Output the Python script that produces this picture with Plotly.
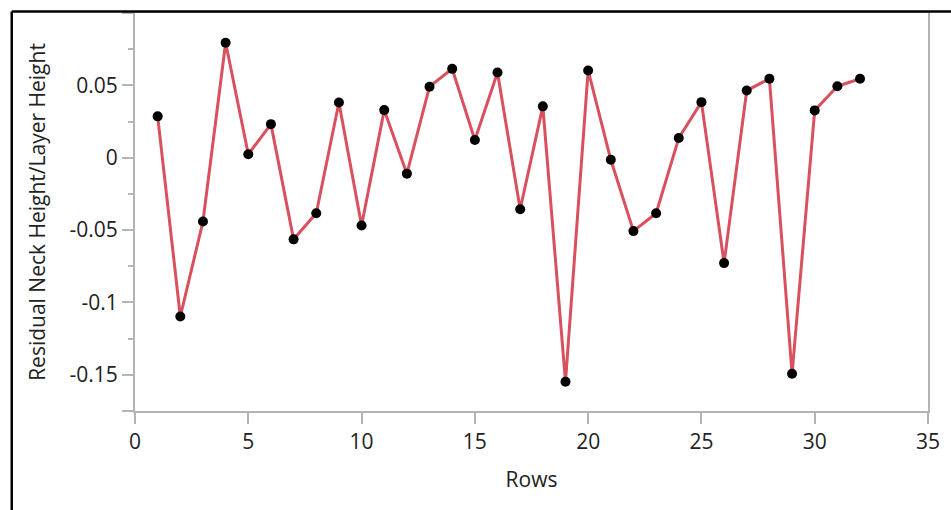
import plotly.graph_objects as go

rows = list(range(1, 33))
residuals = [0.0286, -0.1097, -0.0441, 0.0794, 0.0024, 0.0232, -0.0564, -0.0384,
             0.0382, -0.0468, 0.0329, -0.0110, 0.0491, 0.0614, 0.0122, 0.0589,
             -0.0356, 0.0355, -0.1548, 0.0603, -0.0014, -0.0507, -0.0384, 0.0136,
             0.0384, -0.0728, 0.0464, 0.0546, -0.1493, 0.0327, 0.0494, 0.0546]

x_ticks = [0, 5, 10, 15, 20, 25, 30, 35]
y_ticks = [-0.175, -0.15, -0.1, -0.05, 0, 0.05, 0.1]
y_ticktext = ["", "-0.15", "-0.1", "-0.05", "0", "0.05", ""]
y_minor = [-0.125, -0.075, -0.025, 0.025, 0.075]

FONT = "Segoe UI, Open Sans, sans-serif"
AX = "#b4b4b4"

fig = go.Figure()
fig.add_trace(go.Scatter(
    x=rows, y=residuals, mode="lines+markers",
    line=dict(color="#d9505f", width=3),
    marker=dict(color="black", size=10),
    showlegend=False,
))

L, R, T, B = 135, 15, 11, 99
W, H = 951, 510
pw, ph = W - L - R, H - T - B

def px(x):
    return (x - L) / pw

def py(y):
    return (H - B - y) / ph

fig.update_layout(
    width=W, height=H,
    margin=dict(l=L, r=R, t=T, b=B),
    paper_bgcolor="white", plot_bgcolor="white",
    font=dict(family=FONT, size=22, color="#222222"),
    xaxis=dict(
        range=[0, 35], tickvals=x_ticks, ticks="outside", ticklen=11,
        tickcolor=AX, tickwidth=1.5, showline=True, linecolor=AX, linewidth=2,
        mirror=True, showgrid=False, zeroline=False,
        title=dict(text="Rows", standoff=18, font=dict(size=21)),
        tickfont=dict(size=21),
    ),
    yaxis=dict(
        range=[-0.175, 0.1], tickvals=y_ticks, ticktext=y_ticktext,
        ticks="outside", ticklen=11, tickcolor=AX, tickwidth=1.5,
        showline=True, linecolor=AX, linewidth=2, mirror=True,
        showgrid=False, zeroline=False,
        minor=dict(tickvals=y_minor, ticks="outside", ticklen=5,
                   tickcolor=AX, tickwidth=1.5, showgrid=False),
        title=dict(text="Residual Neck Height/Layer Height", standoff=18,
                   font=dict(size=21)),
        tickfont=dict(size=21),
    ),
    shapes=[
        dict(type="line", xref="paper", yref="paper",
             x0=px(10.5), x1=px(10.5), y0=py(9.5), y1=py(520),
             line=dict(color="black", width=2.5)),
        dict(type="line", xref="paper", yref="paper",
             x0=px(10.5), x1=px(960), y0=py(9.5), y1=py(9.5),
             line=dict(color="black", width=2.5)),
    ],
)

fig.write_html("out.html",
               config={"displayModeBar": False},
               post_script="document.body.style.margin='0';document.body.style.overflow='hidden';")
